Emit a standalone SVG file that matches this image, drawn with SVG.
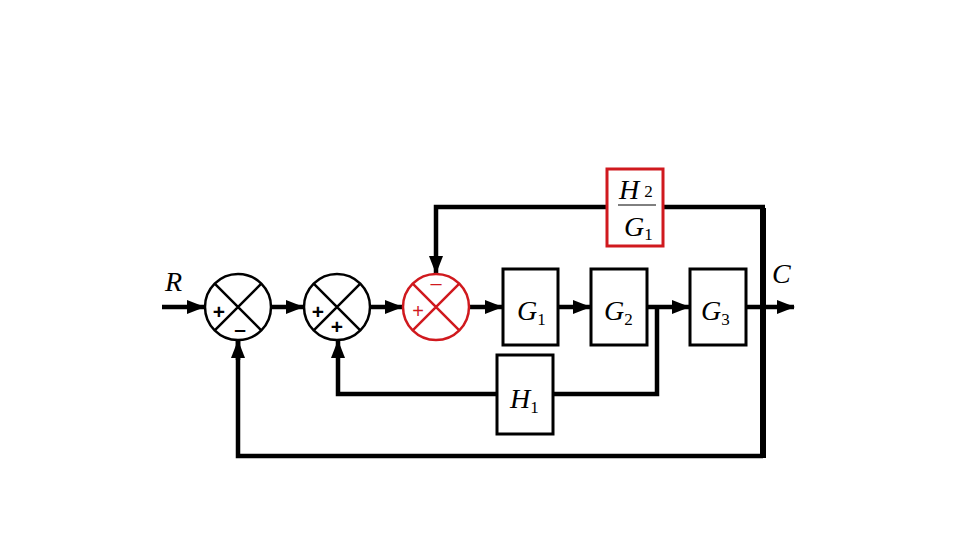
<svg xmlns="http://www.w3.org/2000/svg" width="960" height="540" viewBox="0 0 960 540">
<style>
.blk{fill:#fff;stroke:#000;stroke-width:3}
.sum{fill:#fff;stroke:#000;stroke-width:2.5}
.red{stroke:#d0191e}
.ln{fill:none;stroke:#000;stroke-width:4.5}
.lbl{font-family:"Liberation Serif",serif;font-size:28px;font-style:italic;fill:#000}
.sub{font-family:"Liberation Serif",serif;font-size:17px;font-style:normal}
.sg{font-family:"Liberation Sans",sans-serif;font-size:21px;font-weight:bold;fill:#000;text-anchor:middle}
</style>
<defs>
<marker id="ah" markerWidth="18" markerHeight="14" refX="17" refY="7" orient="auto" markerUnits="userSpaceOnUse">
<path d="M0,0 L18,7 L0,14 Z" fill="#000"/>
</marker>
</defs>
<rect width="960" height="540" fill="#fff"/>
<g id="connectors">
<path class="ln" d="M162,307 H204" marker-end="url(#ah)"/>
<path class="ln" d="M271,307 H303" marker-end="url(#ah)"/>
<path class="ln" d="M371,307 H402" marker-end="url(#ah)"/>
<path class="ln" d="M470,307 H502" marker-end="url(#ah)"/>
<path class="ln" d="M558,307 H590" marker-end="url(#ah)"/>
<path class="ln" d="M647,307 H689" marker-end="url(#ah)"/>
<path class="ln" d="M747,307 H794" marker-end="url(#ah)"/>
<path class="ln" d="M657,307 V394 H553"/>
<path class="ln" d="M497,394 H338 V341" marker-end="url(#ah)"/>
<path class="ln" d="M238,341 V456 H763"/>
<path class="ln" d="M238,360 V341" marker-end="url(#ah)"/>
<path fill="none" stroke="#000" stroke-width="6" d="M763,208 V458"/>
<path class="ln" d="M765,207 H663"/>
<path class="ln" d="M607,207 H436 V273" marker-end="url(#ah)"/>
</g>
<g id="sum1">
<circle class="sum" cx="238" cy="307" r="33"/>
<path d="M214.7,283.7 L261.3,330.3 M261.3,283.7 L214.7,330.3" stroke="#000" stroke-width="2.5"/>
<text class="sg" x="219" y="319">+</text>
<text class="sg" x="240" y="336">–</text>
</g>
<g id="sum2">
<circle class="sum" cx="337" cy="307" r="33"/>
<path d="M313.7,283.7 L360.3,330.3 M360.3,283.7 L313.7,330.3" stroke="#000" stroke-width="2.5"/>
<text class="sg" x="318" y="319">+</text>
<text class="sg" x="337" y="334">+</text>
</g>
<g id="sum3">
<circle class="sum red" cx="436" cy="307" r="33"/>
<path d="M412.7,283.7 L459.3,330.3 M459.3,283.7 L412.7,330.3" stroke="#d0191e" stroke-width="2.5"/>
<text x="418" y="318" font-family="Liberation Sans,sans-serif" font-size="20" fill="#d0191e" text-anchor="middle">+</text>
<text x="436" y="290" font-family="Liberation Sans,sans-serif" font-size="20" fill="#d0191e" text-anchor="middle">–</text>
</g>
<g id="G1">
<rect class="blk" x="503" y="269" width="55" height="76"/>
<text class="lbl" x="517" y="320">G<tspan class="sub" dy="5">1</tspan></text>
</g>
<g id="G2">
<rect class="blk" x="591" y="269" width="56" height="76"/>
<text class="lbl" x="604" y="320">G<tspan class="sub" dy="5">2</tspan></text>
</g>
<g id="G3">
<rect class="blk" x="690" y="269" width="56" height="76"/>
<text class="lbl" x="701" y="320">G<tspan class="sub" dy="5">3</tspan></text>
</g>
<g id="H1">
<rect class="blk" x="497" y="355" width="56" height="79"/>
<text class="lbl" x="510" y="408">H<tspan class="sub" dy="5">1</tspan></text>
</g>
<g id="H2G1">
<rect x="607" y="169" width="56" height="77" fill="#fff" stroke="#d0191e" stroke-width="3"/>
<text class="lbl" x="619" y="199">H<tspan class="sub" dx="5" dy="-2">2</tspan></text>
<line x1="618" y1="205" x2="656" y2="205" stroke="#000" stroke-width="1"/>
<text class="lbl" x="624" y="236">G<tspan class="sub" dy="4">1</tspan></text>
</g>
<g id="labels">
<text class="lbl" x="165" y="291">R</text>
<text class="lbl" x="772" y="283">C</text>
</g>
</svg>
